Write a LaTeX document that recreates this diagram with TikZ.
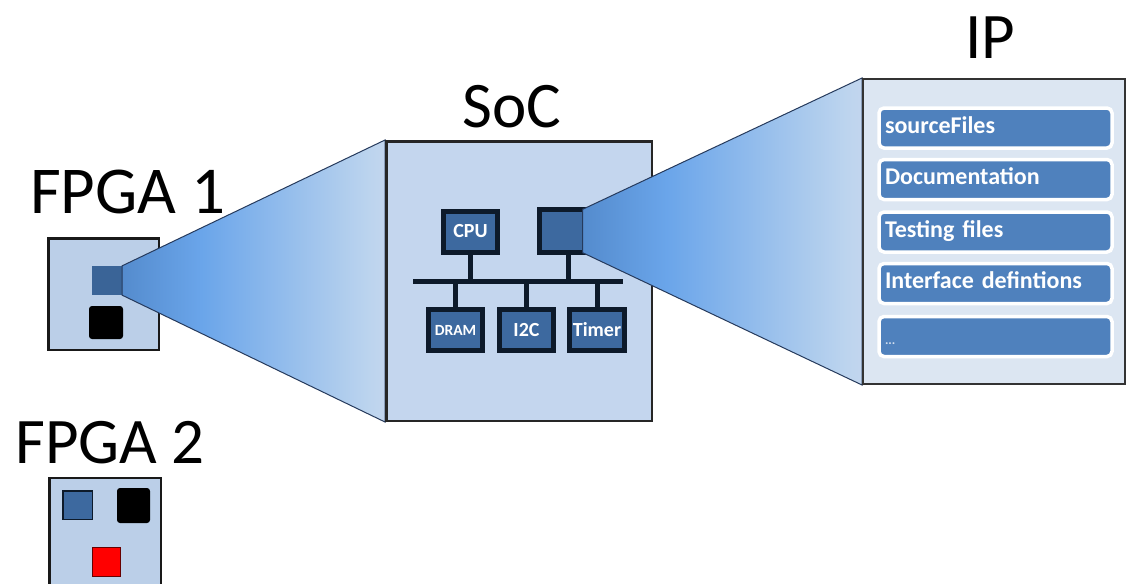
\documentclass[tikz,border=0pt]{standalone}
\usepackage{fontspec}
\setmainfont{Carlito}
\definecolor{boardfill}{HTML}{BBCFE8}
\definecolor{socfill}{HTML}{C4D6EE}
\definecolor{ipfill}{HTML}{DCE6F2}
\definecolor{chipfill}{HTML}{3D699F}
\definecolor{chipedge}{HTML}{0D1A2A}
\definecolor{itemfill}{HTML}{4F81BD}
\definecolor{coneedge}{HTML}{263A5C}
\definecolor{conedark}{HTML}{30619E}
\definecolor{conebright}{HTML}{6AA5EA}
\definecolor{conepale}{HTML}{BCD4EE}
\definecolor{conepink}{HTML}{EADFEF}
\definecolor{conelav}{HTML}{D3D2EE}
% zoom cone: dark at the narrow end, bright blue, fading to a pale lavender
\pgfdeclarehorizontalshading{zoomcone}{100bp}{color(0bp)=(conedark); color(40bp)=(conebright); color(72bp)=(conepale); color(94bp)=(conepink); color(100bp)=(conelav)}
\pgfdeclarelayer{back}
\pgfdeclarelayer{conea}
\pgfdeclarelayer{coneb}
\pgfdeclarelayer{front}
\pgfsetlayers{back,conea,main,coneb,front}
\begin{document}
\begin{tikzpicture}[x=1pt,y=-1pt,
  title/.style={font=\fontsize{65}{65}\selectfont, inner sep=0pt, text=black},
  board/.style={draw=black!90, line width=2.5pt, fill=boardfill, inner sep=0pt},
  chip/.style={draw=chipedge, line width=5pt, fill=chipfill, text=white,
    font=\bfseries\fontsize{20}{20}\selectfont, inner sep=0pt,
    minimum width=54pt, minimum height=41pt},
  bus/.style={draw=chipedge, line width=5pt},
  item/.style={draw=white, line width=3.5pt, fill=itemfill, rounded corners=5pt,
    minimum width=233pt, minimum height=40pt, inner xsep=6pt, inner ysep=0pt,
    text width=221pt, align=left, text height=15pt, text depth=5pt,
    text=white, font=\bfseries\fontsize{24}{24}\selectfont},
  cone/.style={draw=coneedge, line width=1pt, shading=zoomcone, shading angle=0}
]
\useasboundingbox (0,0) rectangle (1128,584);
\clip (0,0) rectangle (1128,584);

% ---------- FPGA boards ----------
\begin{pgfonlayer}{back}
  \fill[white] (0,0) rectangle (1128,584);
  \node[board, minimum width=110.5pt, minimum height=111.5pt] (fpga1) at (103.5,294) {};
  \node[fill=chipfill!95!black, minimum width=30pt, minimum height=29pt, inner sep=0pt] (f1blk) at (107,280.5) {};
  \node[fill=black, rounded corners=3pt, minimum width=34pt, minimum height=33pt, inner sep=0pt] (f1blk2) at (106,322.5) {};

  \node[board, minimum width=111.5pt, minimum height=140pt] (fpga2) at (105,548) {};
  \node[fill=chipfill, draw=chipedge, line width=1.5pt, minimum width=29.5pt, minimum height=28.5pt, inner sep=0pt] (f2blue) at (77.5,505) {};
  \node[fill=black, rounded corners=3pt, minimum width=33pt, minimum height=35pt, inner sep=0pt] (f2black) at (133.5,505.5) {};
  \node[fill=red, draw=red!40!black, line width=1.2pt, minimum width=28pt, minimum height=29pt, inner sep=0pt] (f2red) at (106.5,562) {};
\end{pgfonlayer}

\node[title, font=\fontsize{67}{67}\selectfont, anchor=base west] (tfpga1) at (30,213) {FPGA 1};
\node[title, anchor=base west] (tfpga2) at (15,463) {FPGA 2};

% ---------- SoC ----------
\node[board, draw=black!85, fill=socfill, minimum width=265.5pt, minimum height=279.5pt] (soc) at (519,281) {};
\node[title, anchor=base] (tsoc) at (512,127) {SoC};

\begin{pgfonlayer}{conea}
  \draw[cone] (f1blk.north east) -- (soc.north west) -- (soc.south west) -- (f1blk.south east) -- cycle;
\end{pgfonlayer}

\node[chip] (cpu) at (470.5,231.5) {CPU};
\node[chip, font=\bfseries\fontsize{15.5}{15.5}\selectfont] (dram) at (455.5,330) {DRAM};
\node[chip] (i2c) at (526.5,330) {I2C};
\node[chip, minimum width=55pt] (timer) at (597,330) {Timer};
\node[fill=chipfill, minimum width=50pt, minimum height=43pt, inner sep=0pt] (ipblk) at (564.5,231) {};
\draw[bus] (ipblk.north east) -- (ipblk.north west) -- (ipblk.south west) -- (ipblk.south east);

\coordinate (busL) at (413,281);
\coordinate (busR) at (623,281);
\draw[bus] (busL) -- (busR);
\draw[bus] (cpu.south) -- (cpu.south |- busL);
\draw[bus] ([xshift=3.5pt]ipblk.south) -- ([xshift=3.5pt]ipblk.south |- busL);
\draw[bus] (dram.north) -- (dram.north |- busL);
\draw[bus] (i2c.north) -- (i2c.north |- busL);
\draw[bus] (timer.north) -- (timer.north |- busL);

% ---------- IP ----------
\begin{pgfonlayer}{front}
  \node[draw=black!80, line width=2pt, fill=ipfill, minimum width=262pt, minimum height=305pt, inner sep=0pt] (ip) at (994,231.5) {};
  \node[title, anchor=base] (tip) at (990,58) {IP};
  \node[item] (src) at (995.5,128) {sourceFiles};
  \node[item] (doc) at (995.5,179.5) {Documentation};
  \node[item] (tst) at (995.5,232) {Testing files};
  \node[item] (ifc) at (995.5,283.5) {Interface defintions};
  \node[item, font=\bfseries\fontsize{13}{13}\selectfont, text=white!75!itemfill] (more) at (995.5,336.5) {\raisebox{-3pt}{...}};
\end{pgfonlayer}

\begin{pgfonlayer}{coneb}
  \draw[cone] ([xshift=-7pt]ipblk.north east) -- (ip.north west) -- (ip.south west) -- ([xshift=-7pt]ipblk.south east) -- cycle;
\end{pgfonlayer}
\end{tikzpicture}
\end{document}
